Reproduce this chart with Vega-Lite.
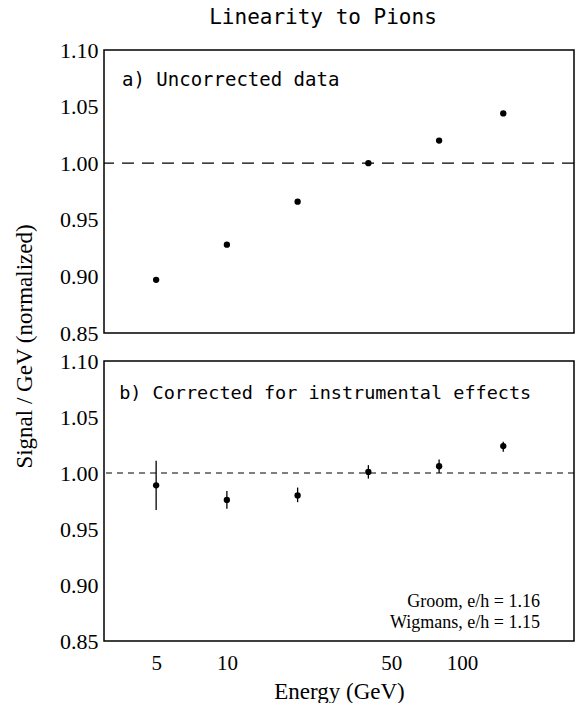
{
  "$schema": "https://vega.github.io/schema/vega-lite/v6.json",
  "padding": {"left": 12, "top": 7, "right": 4, "bottom": 4},
  "bounds": "flush",
  "spacing": 28,
  "background": "white",
  "title": {"text": "Linearity to Pions", "font": "DejaVu Sans Mono", "fontSize": 21, "fontWeight": "normal", "color": "black", "anchor": "middle", "frame": "group", "dx": -16, "offset": 10},
  "config": {
    "view": {"stroke": "black", "strokeWidth": 1.5},
    "axis": {"grid": false, "domain": false, "ticks": false, "labelFont": "Liberation Serif", "labelFontSize": 22, "labelColor": "black", "titleFont": "Liberation Serif", "titleFontSize": 23, "titleFontWeight": "normal", "titleColor": "black"}
  },
  "datasets": {
    "raw": [
      {"E": 5, "s": 0.897},
      {"E": 10, "s": 0.928},
      {"E": 20, "s": 0.966},
      {"E": 40, "s": 1.000},
      {"E": 80, "s": 1.020},
      {"E": 150, "s": 1.044}
    ],
    "corr": [
      {"E": 5, "s": 0.989, "lo": 0.967, "hi": 1.011},
      {"E": 10, "s": 0.976, "lo": 0.968, "hi": 0.984},
      {"E": 20, "s": 0.980, "lo": 0.974, "hi": 0.987},
      {"E": 40, "s": 1.001, "lo": 0.995, "hi": 1.007},
      {"E": 80, "s": 1.006, "lo": 1.000, "hi": 1.012},
      {"E": 150, "s": 1.024, "lo": 1.019, "hi": 1.028}
    ],
    "one": [{}]
  },
  "vconcat": [
    {
      "width": 470,
      "height": 283,
      "layer": [
        {
          "data": {"name": "one"},
          "mark": {"type": "rule", "color": "black", "strokeWidth": 1.2, "strokeDash": [12, 8]},
          "encoding": {"y": {"datum": 1.0, "type": "quantitative", "scale": {"domain": [0.85, 1.10], "nice": false, "zero": false}}}
        },
        {
          "data": {"name": "raw"},
          "mark": {"type": "point", "filled": true, "color": "black", "size": 40, "opacity": 1},
          "encoding": {
            "x": {"field": "E", "type": "quantitative", "scale": {"type": "log", "domain": [3, 300], "nice": false}, "axis": null},
            "y": {"field": "s", "type": "quantitative", "scale": {"domain": [0.85, 1.10], "nice": false, "zero": false}, "axis": {"values": [0.85, 0.9, 0.95, 1.0, 1.05, 1.1], "format": ".2f", "labelPadding": 6, "title": null}}
          }
        },
        {
          "data": {"name": "one"},
          "mark": {"type": "text", "font": "DejaVu Sans Mono", "fontSize": 19, "align": "left", "baseline": "middle", "color": "black", "text": "a) Uncorrected data"},
          "encoding": {
            "x": {"datum": 3.58, "type": "quantitative"},
            "y": {"datum": 1.0737, "type": "quantitative"}
          }
        }
      ]
    },
    {
      "width": 470,
      "height": 280,
      "layer": [
        {
          "data": {"name": "one"},
          "mark": {"type": "rule", "color": "black", "strokeWidth": 1.2, "strokeDash": [6, 5]},
          "encoding": {"y": {"datum": 1.0, "type": "quantitative", "scale": {"domain": [0.85, 1.10], "nice": false, "zero": false}}}
        },
        {
          "data": {"name": "corr"},
          "mark": {"type": "rule", "color": "black", "strokeWidth": 1.3},
          "encoding": {
            "x": {"field": "E", "type": "quantitative", "scale": {"type": "log", "domain": [3, 300], "nice": false}},
            "y": {"field": "lo", "type": "quantitative"},
            "y2": {"field": "hi"}
          }
        },
        {
          "data": {"name": "corr"},
          "mark": {"type": "point", "filled": true, "color": "black", "size": 40, "opacity": 1},
          "encoding": {
            "x": {"field": "E", "type": "quantitative", "scale": {"type": "log", "domain": [3, 300], "nice": false}, "axis": {"values": [5, 10, 50, 100], "format": "d", "labelPadding": 11, "labelFontSize": 21, "title": "Energy (GeV)", "titlePadding": 7}},
            "y": {"field": "s", "type": "quantitative", "scale": {"domain": [0.85, 1.10], "nice": false, "zero": false}, "axis": {"values": [0.85, 0.9, 0.95, 1.0, 1.05, 1.1], "format": ".2f", "labelPadding": 6, "title": "Signal / GeV (normalized)", "titleX": -80, "titleY": -15, "titleBaseline": "middle", "titleAngle": -90}}
          }
        },
        {
          "data": {"name": "one"},
          "mark": {"type": "text", "font": "DejaVu Sans Mono", "fontSize": 18.5, "align": "left", "baseline": "middle", "color": "black", "text": "b) Corrected for instrumental effects"},
          "encoding": {
            "x": {"datum": 3.48, "type": "quantitative"},
            "y": {"datum": 1.0714, "type": "quantitative"}
          }
        },
        {
          "data": {"name": "one"},
          "mark": {"type": "text", "font": "Liberation Serif", "fontSize": 18, "align": "right", "baseline": "middle", "color": "black", "text": "Groom, e/h = 1.16"},
          "encoding": {
            "x": {"datum": 215, "type": "quantitative"},
            "y": {"datum": 0.885, "type": "quantitative"}
          }
        },
        {
          "data": {"name": "one"},
          "mark": {"type": "text", "font": "Liberation Serif", "fontSize": 18, "align": "right", "baseline": "middle", "color": "black", "text": "Wigmans, e/h = 1.15"},
          "encoding": {
            "x": {"datum": 215, "type": "quantitative"},
            "y": {"datum": 0.866, "type": "quantitative"}
          }
        }
      ]
    }
  ]
}
